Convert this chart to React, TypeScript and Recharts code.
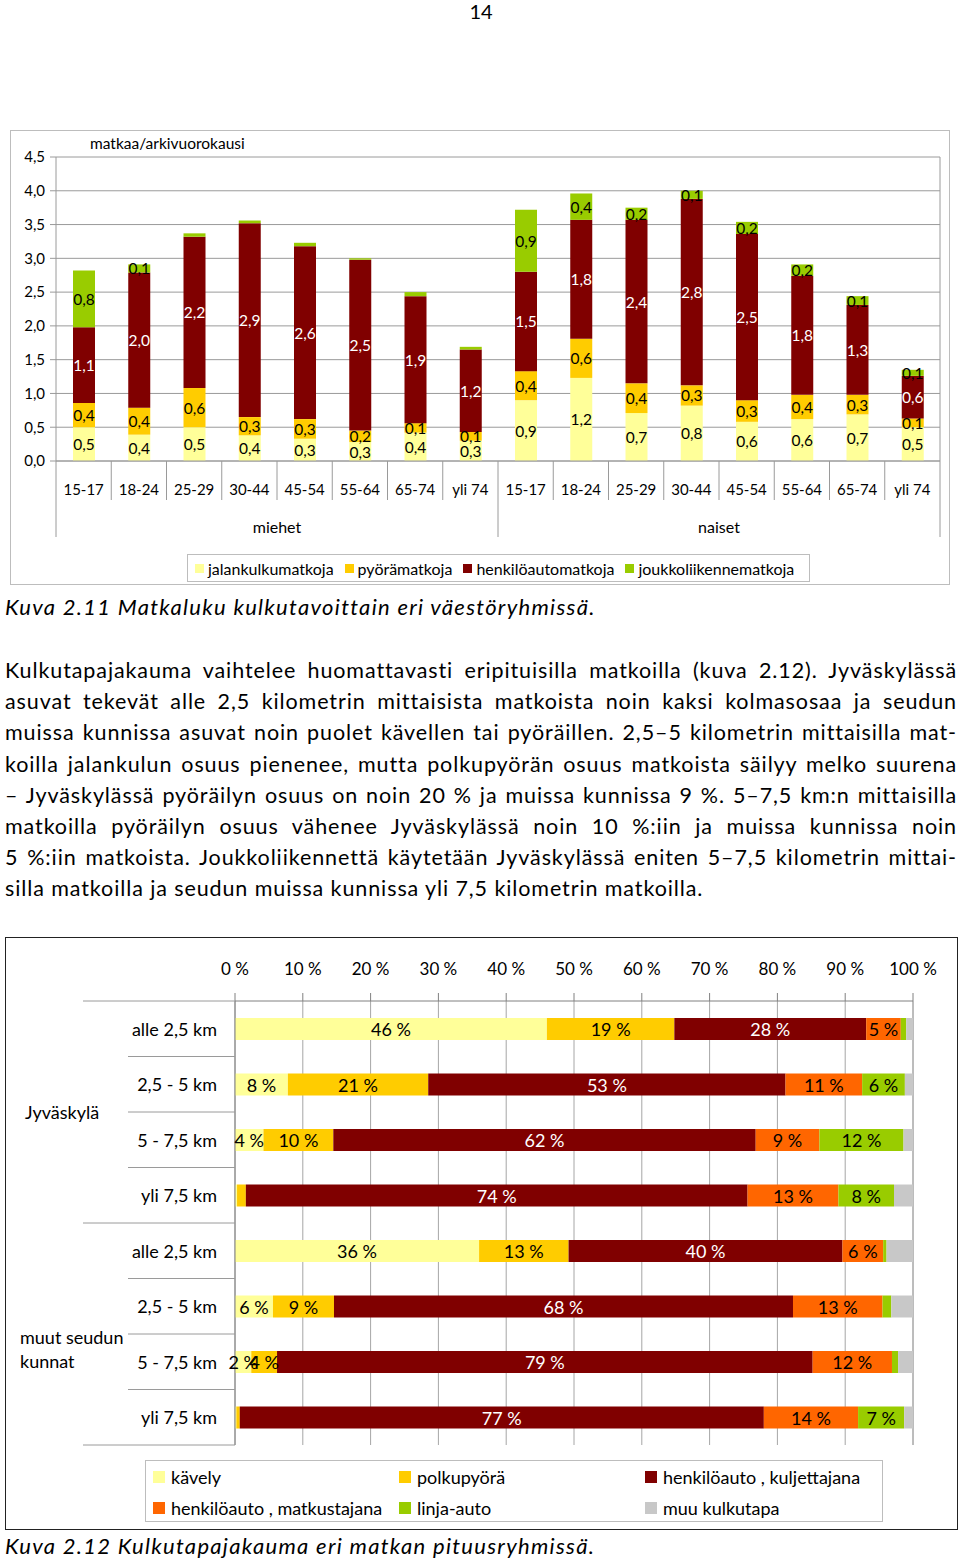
import React from 'react';
import { BarChart, Bar, XAxis, YAxis, CartesianGrid, LabelList } from 'recharts';

const FONT = 'Lato, "Open Sans", sans-serif';

// ---------- Chart 1: trips per weekday ----------
const AGE_LABELS = ['15-17', '18-24', '25-29', '30-44', '45-54', '55-64', '65-74', 'yli 74'];
const GENDER_GROUPS = ['miehet', 'naiset'];
const WALK_TRIPS = [0.5, 0.39, 0.5, 0.38, 0.33, 0.28, 0.42, 0.3, 0.9, 1.23, 0.71, 0.82, 0.58, 0.62, 0.69, 0.5];
const BIKE_TRIPS = [0.36, 0.4, 0.58, 0.27, 0.29, 0.17, 0.14, 0.13, 0.43, 0.58, 0.44, 0.3, 0.32, 0.36, 0.29, 0.13];
const CAR_TRIPS = [1.12, 2.0, 2.24, 2.87, 2.56, 2.53, 1.88, 1.22, 1.47, 1.76, 2.42, 2.76, 2.46, 1.76, 1.33, 0.63];
const TRANSIT_TRIPS = [0.84, 0.12, 0.05, 0.04, 0.05, 0.02, 0.06, 0.04, 0.92, 0.39, 0.18, 0.12, 0.18, 0.17, 0.13, 0.09];
const Y_TICKS_1 = [0, 0.5, 1, 1.5, 2, 2.5, 3, 3.5, 4, 4.5];
const SERIES_1 = [
  { key: 'walk', name: 'jalankulkumatkoja', color: '#FFFF99', text: '#000' },
  { key: 'bike', name: 'pyörämatkoja', color: '#FFCC00', text: '#000' },
  { key: 'car', name: 'henkilöautomatkoja', color: '#800000', text: '#fff' },
  { key: 'transit', name: 'joukkoliikennematkoja', color: '#99CC00', text: '#000' },
];

const TRIPS_DATA = WALK_TRIPS.map((_, i) => ({
  id: i,
  age: AGE_LABELS[i % 8],
  group: GENDER_GROUPS[Math.floor(i / 8)],
  walk: WALK_TRIPS[i],
  bike: BIKE_TRIPS[i],
  car: CAR_TRIPS[i],
  transit: TRANSIT_TRIPS[i],
}));

// ---------- Chart 2: mode share by trip length ----------
const DIST_LABELS = ['alle 2,5 km', '2,5 - 5 km', '5 - 7,5 km', 'yli 7,5 km'];
const AREA_GROUPS = [['Jyväskylä'], ['muut seudun', 'kunnat']];
const WALK_PCT = [46, 7.8, 4.2, 0.3, 36, 5.6, 2.4, 0.2];
const BIKE_PCT = [18.8, 20.7, 10.3, 1.3, 13.2, 9.0, 3.8, 0.5];
const DRIVER_PCT = [28.3, 52.7, 62.3, 74.0, 40.4, 67.7, 79.0, 77.3];
const PASSENGER_PCT = [5.1, 11.3, 9.4, 13.4, 6.0, 13.2, 11.7, 13.9];
const BUS_PCT = [0.8, 6.3, 12.4, 8.2, 0.5, 1.3, 0.9, 6.8];
const OTHER_PCT = [1.0, 1.2, 1.4, 2.8, 3.9, 3.2, 2.2, 1.3];
const X_TICKS_2 = [0, 10, 20, 30, 40, 50, 60, 70, 80, 90, 100];
const SERIES_2 = [
  { key: 'walk', name: 'kävely', color: '#FFFF99', text: '#000' },
  { key: 'bike', name: 'polkupyörä', color: '#FFCC00', text: '#000' },
  { key: 'driver', name: 'henkilöauto , kuljettajana', color: '#800000', text: '#fff' },
  { key: 'passenger', name: 'henkilöauto , matkustajana', color: '#FF6600', text: '#000' },
  { key: 'bus', name: 'linja-auto', color: '#99CC00', text: '#000' },
  { key: 'other', name: 'muu kulkutapa', color: '#C8C8C8', text: '#000' },
];

const SHARE_DATA = WALK_PCT.map((_, i) => ({
  id: i,
  label: DIST_LABELS[i % 4],
  walk: WALK_PCT[i],
  bike: BIKE_PCT[i],
  driver: DRIVER_PCT[i],
  passenger: PASSENGER_PCT[i],
  bus: BUS_PCT[i],
  other: OTHER_PCT[i],
}));

const PARAGRAPH_LINES = [
  'Kulkutapajakauma vaihtelee huomattavasti eripituisilla matkoilla (kuva 2.12). Jyväskylässä',
  'asuvat tekevät alle 2,5 kilometrin mittaisista matkoista noin kaksi kolmasosaa ja seudun',
  'muissa kunnissa asuvat noin puolet kävellen tai pyöräillen. 2,5–5 kilometrin mittaisilla mat-',
  'koilla jalankulun osuus pienenee, mutta polkupyörän osuus matkoista säilyy melko suurena',
  '– Jyväskylässä pyöräilyn osuus on noin 20 % ja muissa kunnissa 9 %. 5–7,5 km:n mittaisilla',
  'matkoilla pyöräilyn osuus vähenee Jyväskylässä noin 10 %:iin ja muissa kunnissa noin',
  '5 %:iin matkoista. Joukkoliikennettä käytetään Jyväskylässä eniten 5–7,5 kilometrin mittai-',
  'silla matkoilla ja seudun muissa kunnissa yli 7,5 kilometrin matkoilla.',
];

// ---------- layout constants ----------
const C1 = { left: 10, top: 130, width: 940, height: 455 };
const BAND1 = (940 - 56) / 16;
const C2 = { left: 5, top: 937, width: 953, height: 593 };
const BAND2 = (1445 - 1001) / 8;

const fmt1 = (v: number) => v.toFixed(1).replace('.', ',');

const makeLabel1 = (color: string) => (props: any) => {
  const { x, y, width, height, value } = props;
  if (value == null || Number(value) < 0.08) return null;
  return (
    <text x={Number(x) + Number(width) / 2} y={Number(y) + Number(height) / 2} textAnchor="middle"
      dominantBaseline="central" fontSize={15.5} fill={color} fontFamily={FONT}>
      {fmt1(Number(value))}
    </text>
  );
};

const makeLabel2 = (color: string) => (props: any) => {
  const { x, y, width, height, value } = props;
  if (value == null || Number(value) < 1.5) return null;
  return (
    <text x={Number(x) + Number(width) / 2} y={Number(y) + Number(height) / 2} textAnchor="middle"
      dominantBaseline="central" fontSize={18} fill={color} fontFamily={FONT}>
      {`${Math.round(Number(value))} %`}
    </text>
  );
};

function AgeTick(props: any) {
  const { x, y, payload } = props;
  const i = Number(payload.value);
  const row = TRIPS_DATA[i];
  const left = x - BAND1 / 2;
  const groupStart = i % 8 === 0;
  return (
    <g>
      <text x={x} y={y + 28} textAnchor="middle" dominantBaseline="central" fontSize={15} fill="#000" fontFamily={FONT}>
        {row.age}
      </text>
      <line x1={left} x2={left} y1={y} y2={y + (groupStart ? 76 : 39)} stroke="#9a9a9a" />
      {i % 8 === 4 && (
        <text x={left} y={y + 65} textAnchor="middle" dominantBaseline="central" fontSize={16} fill="#000" fontFamily={FONT}>
          {row.group}
        </text>
      )}
      {i === TRIPS_DATA.length - 1 && (
        <line x1={x + BAND1 / 2} x2={x + BAND1 / 2} y1={y} y2={y + 76} stroke="#9a9a9a" />
      )}
    </g>
  );
}

function DistTick(props: any) {
  const { x, y, payload } = props;
  const i = Number(payload.value);
  const row = SHARE_DATA[i];
  const top = y - BAND2 / 2;
  const groupStart = i % 4 === 0;
  const group = AREA_GROUPS[Math.floor(i / 4)];
  return (
    <g>
      <text x={x - 18} y={y} textAnchor="end" dominantBaseline="central" fontSize={18} fill="#000" fontFamily={FONT}>
        {row.label}
      </text>
      <line x1={groupStart ? x - 152 : x - 107} x2={x} y1={top} y2={top} stroke="#9a9a9a" />
      {i === SHARE_DATA.length - 1 && (
        <line x1={x - 152} x2={x} y1={y + BAND2 / 2} y2={y + BAND2 / 2} stroke="#9a9a9a" />
      )}
      {i % 4 === 2 && group.length === 1 && (
        <text x={x - 210} y={top} dominantBaseline="central" fontSize={18} fill="#000" fontFamily={FONT}>
          {group[0]}
        </text>
      )}
      {i % 4 === 2 && group.length === 2 && (
        <g>
          <text x={x - 215} y={top + 3} dominantBaseline="central" fontSize={18} fill="#000" fontFamily={FONT}>
            {group[0]}
          </text>
          <text x={x - 215} y={top + 27} dominantBaseline="central" fontSize={18} fill="#000" fontFamily={FONT}>
            {group[1]}
          </text>
        </g>
      )}
    </g>
  );
}

const abs = (l: number, t: number, w?: number, h?: number): React.CSSProperties => ({
  position: 'absolute', left: l, top: t, width: w, height: h,
});

export default function App() {
  return (
    <div style={{ position: 'absolute', left: 0, top: 0, width: 960, height: 1563, background: '#fff', fontFamily: FONT, color: '#000', overflow: 'hidden' }}>
      <div style={{ ...abs(0, 0, 960, 24), textAlign: 'center', fontSize: 20, lineHeight: '22px', paddingLeft: 2, boxSizing: 'border-box' }}>14</div>

      {/* Chart 1 */}
      <div style={{ ...abs(C1.left, C1.top, C1.width, C1.height), border: '1px solid #bdbdbd', boxSizing: 'border-box' }} />
      <div style={abs(C1.left, C1.top)}>
        <BarChart width={C1.width} height={C1.height} data={TRIPS_DATA} margin={{ top: 27, right: 10, bottom: 0, left: 0 }} barSize={22}>
          <CartesianGrid stroke="#9a9a9a" vertical={true}
            verticalCoordinatesGenerator={({ offset }: any) => [offset.left + offset.width]} />
          <XAxis dataKey="id" type="category" height={124} interval={0} tickSize={0} tickMargin={0}
            axisLine={{ stroke: '#9a9a9a' }} tickLine={false} tick={<AgeTick />} />
          <YAxis width={46} domain={[0, 4.5]} ticks={Y_TICKS_1} tickFormatter={fmt1} interval={0}
            tickSize={6} tickMargin={5} axisLine={{ stroke: '#9a9a9a' }} tickLine={{ stroke: '#9a9a9a' }}
            tick={{ fontSize: 15, fill: '#000', fontFamily: FONT }} />
          {SERIES_1.map((s) => (
            <Bar key={s.key} dataKey={s.key} name={s.name} stackId="a" fill={s.color} isAnimationActive={false}>
              <LabelList dataKey={s.key} content={makeLabel1(s.text)} />
            </Bar>
          ))}
        </BarChart>
      </div>
      <div style={{ ...abs(90, 133, 300, 20), fontSize: 15.5, lineHeight: '20px' }}>matkaa/arkivuorokausi</div>
      <div style={{ ...abs(187, 554, 623, 28), border: '1px solid #bdbdbd', boxSizing: 'border-box', display: 'flex', alignItems: 'center', paddingLeft: 7, fontSize: 16 }}>
        {SERIES_1.map((s) => (
          <div key={s.key} style={{ display: 'flex', alignItems: 'center', marginRight: 11 }}>
            <div style={{ width: 9, height: 9, background: s.color, marginRight: 4 }} />
            <span>{s.name}</span>
          </div>
        ))}
      </div>

      <div style={{ ...abs(5, 593, 940, 28), fontSize: 22, letterSpacing: 1.3, fontStyle: 'italic', lineHeight: '28px', whiteSpace: 'nowrap' }}>
        Kuva 2.11 Matkaluku kulkutavoittain eri väestöryhmissä.
      </div>

      {/* Paragraph */}
      <div style={{ ...abs(5, 655, 952), fontSize: 21.5, letterSpacing: 0.9, lineHeight: '31.2px' }}>
        {PARAGRAPH_LINES.map((ln, i) => (
          <div key={i} style={{
            whiteSpace: 'nowrap',
            textAlign: i === PARAGRAPH_LINES.length - 1 ? 'left' : 'justify',
            textAlignLast: i === PARAGRAPH_LINES.length - 1 ? 'left' : 'justify',
          }}>{ln}</div>
        ))}
      </div>

      {/* Chart 2 */}
      <div style={{ ...abs(C2.left, C2.top, C2.width, C2.height), border: '1.5px solid #222', boxSizing: 'border-box' }} />
      <div style={abs(C2.left, C2.top)}>
        <BarChart width={C2.width} height={C2.height} data={SHARE_DATA} layout="vertical"
          margin={{ top: 34, right: 45, bottom: 85, left: 0 }} barSize={22}>
          <CartesianGrid stroke="#a6a6a6" horizontal={false} />
          <XAxis type="number" orientation="top" height={30} domain={[0, 100]} ticks={X_TICKS_2} interval={0}
            tickFormatter={(v: number) => `${v} %`} tickSize={8} tickMargin={18}
            axisLine={{ stroke: '#808080' }} tickLine={{ stroke: '#808080' }}
            tick={{ fontSize: 17, fill: '#000', fontFamily: FONT }} />
          <XAxis xAxisId="bottom" type="number" orientation="bottom" height={0} domain={[0, 100]}
            tick={false} tickLine={false} axisLine={{ stroke: '#a6a6a6' }} />
          <YAxis type="category" dataKey="id" width={230} interval={0} tickSize={0} tickMargin={0}
            axisLine={{ stroke: '#808080' }} tickLine={false} tick={<DistTick />} />
          {SERIES_2.map((s) => (
            <Bar key={s.key} dataKey={s.key} name={s.name} stackId="b" fill={s.color} isAnimationActive={false}>
              {s.key !== 'other' && <LabelList dataKey={s.key} content={makeLabel2(s.text)} />}
            </Bar>
          ))}
        </BarChart>
      </div>
      <div style={{ ...abs(145, 1460, 738, 62), border: '1px solid #bdbdbd', boxSizing: 'border-box', fontSize: 18 }}>
        {SERIES_2.map((s, i) => (
          <div key={s.key} style={{ position: 'absolute', left: 7 + (i % 3) * 246, top: i < 3 ? 5 : 36, height: 22, display: 'flex', alignItems: 'center', whiteSpace: 'nowrap' }}>
            <div style={{ width: 12, height: 12, background: s.color, marginRight: 6 }} />
            <span>{s.name}</span>
          </div>
        ))}
      </div>

      <div style={{ ...abs(5, 1532, 940, 28), fontSize: 22, letterSpacing: 1.3, fontStyle: 'italic', lineHeight: '28px', whiteSpace: 'nowrap' }}>
        Kuva 2.12 Kulkutapajakauma eri matkan pituusryhmissä.
      </div>
    </div>
  );
}
